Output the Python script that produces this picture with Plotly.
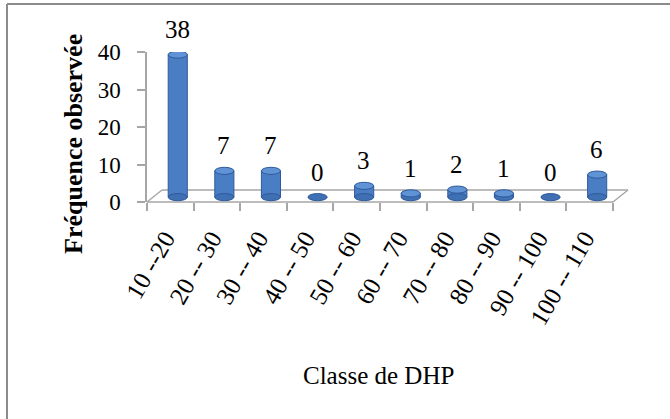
import plotly.graph_objects as go

categories = ["10 --20", "20 -- 30", "30 -- 40", "40 -- 50", "50 -- 60",
              "60 -- 70", "70 -- 80", "80 -- 90", "90 -- 100", "100 -- 110"]
values = [38, 7, 7, 0, 3, 1, 2, 1, 0, 6]
y_ticks = [0, 10, 20, 30, 40]

W, H = 670, 419
L, R, T, B = 147, 57, 52, 217
pw, ph = W - L - R, H - T - B
FONT = "Liberation Serif"

base = 1.3          # visual floor lift of the 3D look
bw = 0.41           # bar width in category units
off = -0.045        # bar offset in category units
ell_h = 1.9         # ellipse height in data units


def px(xp):
    return (xp - L) / pw


def py(yp):
    return (T + ph - yp) / ph


fig = go.Figure()
fig.add_trace(go.Bar(
    x=categories, y=values, base=[base] * len(values),
    width=bw, offset=off,
    marker=dict(color="#4A7EC4", line=dict(color="#2F5A9A", width=1)),
    hoverinfo="skip", showlegend=False,
))

shapes = []
floor_col = "#A6A6A6"
for (x0, y0, x1, y1) in [(147, 202, 613, 202), (162, 190, 628, 190),
                         (147, 202, 162, 190), (613, 202, 628, 190)]:
    shapes.append(dict(type="line", xref="paper", yref="paper",
                       x0=px(x0), y0=py(y0), x1=px(x1), y1=py(y1),
                       line=dict(color=floor_col, width=1.5), layer="below"))

for i, v in enumerate(values):
    xa, xb = i + off, i + off + bw
    shapes.append(dict(type="circle", xref="x", yref="y",
                       x0=xa, x1=xb, y0=base - ell_h / 2, y1=base + ell_h / 2,
                       fillcolor="#3F70B3", line=dict(color="#2F5A9A", width=1)))
    if v > 0:
        shapes.append(dict(type="circle", xref="x", yref="y",
                           x0=xa, x1=xb, y0=base + v - ell_h / 2, y1=base + v + ell_h / 2,
                           fillcolor="#5F93D6", line=dict(color="#2F5A9A", width=1)))

# outer frame (top and left edges visible)
shapes.append(dict(type="line", xref="paper", yref="paper",
                   x0=px(7), x1=px(670), y0=py(4), y1=py(4),
                   line=dict(color="#8C8C8C", width=2), layer="below"))
shapes.append(dict(type="line", xref="paper", yref="paper",
                   x0=px(7), x1=px(7), y0=py(4), y1=py(419),
                   line=dict(color="#8C8C8C", width=2), layer="below"))

annotations = []
for c, v in zip(categories, values):
    annotations.append(dict(x=c, y=v + base, xref="x", yref="y", text=str(v),
                            showarrow=False, xshift=7, yshift=25,
                            xanchor="center", yanchor="middle",
                            font=dict(family=FONT, size=25, color="#000")))
annotations.append(dict(x=px(73), y=py(144), xref="paper", yref="paper",
                        text="<b>Fréquence observée</b>",
                        showarrow=False, textangle=-90,
                        xanchor="center", yanchor="middle",
                        font=dict(family=FONT, size=26, color="#000")))
annotations.append(dict(x=px(378), y=py(375), xref="paper", yref="paper",
                        text="Classe de DHP", showarrow=False,
                        xanchor="center", yanchor="middle",
                        font=dict(family=FONT, size=25, color="#000")))

fig.update_layout(
    width=W, height=H,
    margin=dict(l=L, r=R, t=T, b=B),
    paper_bgcolor="white", plot_bgcolor="white",
    shapes=shapes, annotations=annotations,
    xaxis=dict(type="category", showgrid=False, showline=False, zeroline=False,
               automargin=False,
               ticks="outside", ticklen=8, tickcolor=floor_col, tickwidth=1.5,
               tickson="boundaries", tickangle=-60,
               ticklabelstandoff=16, ticklabelshift=-5,
               tickfont=dict(family=FONT, size=25, color="#000")),
    yaxis=dict(range=[0, 40], tickvals=y_ticks, showgrid=False, zeroline=False,
               automargin=False,
               showline=True, linecolor=floor_col, linewidth=1.5,
               ticks="outside", ticklen=8, tickcolor=floor_col, tickwidth=1.5,
               ticklabelstandoff=12,
               tickfont=dict(family=FONT, size=23, color="#000")),
)

fig.write_html("out.html", config={"displayModeBar": False},
               post_script="document.body.style.margin='0';document.body.style.overflow='hidden';")
